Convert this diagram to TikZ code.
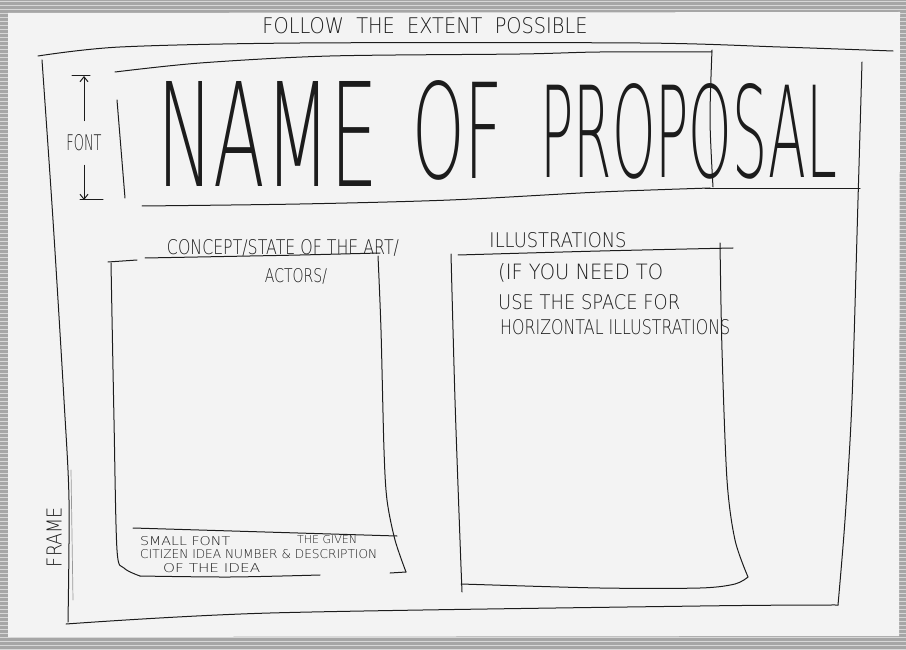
\documentclass[tikz,border=0pt]{standalone}
\usepackage{fontspec}
\usepackage{graphicx}
\usetikzlibrary{arrows.meta}
\newfontfamily\penfont{DejaVuSans-ExtraLight.ttf}
% squeeze a line of text into a given width and cap height (in pt)
\newcommand\skfit[3]{\resizebox{#1pt}{#2pt}{#3}}
\definecolor{wood}{HTML}{A6A6A6}
\definecolor{paper}{HTML}{F3F3F3}
\definecolor{ink}{HTML}{1C1C1C}

\begin{document}
\begin{tikzpicture}[x=1pt,y=-1pt,
  pen/.style={draw=ink, line width=1pt, line cap=round, line join=round},
  faint/.style={draw=ink!45, line width=0.7pt, line cap=round},
  label/.style={inner sep=0pt, text=ink, font=\penfont},
  tip/.style={-{Straight Barb[length=5pt,width=8pt]}}]
\useasboundingbox (0,0) rectangle (906,650);

% table top and sheet of paper
\fill[wood] (0,0) rectangle (906,650);
\foreach \yy in {1,5,...,650} \draw[white!55!wood, line width=0.8pt] (0,\yy) -- (906,\yy);
\fill[paper] (8,13) -- (900,12) -- (899,636) -- (8,637) -- cycle;

% heading
\node[label] (head) at (425,26) {\skfit{325}{16}{FOLLOW \ THE \ EXTENT \ POSSIBLE}};

% outer frame
\draw[pen] plot[smooth] coordinates {(38,56) (120,47) (300,43) (640,43) (780,47) (893,51)};
\draw[pen] plot[smooth] coordinates {(42,60) (53,220) (64,400) (69,500) (68,622)};
\draw[pen] plot[smooth] coordinates {(66,624) (270,613) (700,606) (838,605)};
\draw[pen] plot[smooth] coordinates {(862,62) (858,200) (852,400) (845,520) (838,605)};
\draw[faint] (71,470) -- (73,600);
\node[label, rotate=90] (frame) at (54,537) {\skfit{60}{15}{FRAME}};

% title block
\draw[pen] plot[smooth] coordinates {(115,72) (200,63) (330,56) (520,54) (600,52) (712,52)};
\draw[pen] (117,100) -- (125,198);
\draw[pen] plot[smooth] coordinates {(712,50) (710,120) (713,187)};
\draw[pen] plot[smooth] coordinates {(142,206) (300,204) (450,200) (600,192) (710,188)};
\draw[pen] (705,189) -- (860,189);
\node[label, anchor=west] (tname) at (157,134) {\skfit{221}{105}{NAME}};
\node[label, anchor=west] (tof) at (412,130) {\skfit{91}{98}{OF}};
\node[label, anchor=west] (tprop) at (540,131) {\skfit{297}{94}{PROPOSAL}};

% font size marker
\node[label, inner ysep=14pt] (font) at (84,143) {\skfit{35}{16}{FONT}};
\coordinate (ftop) at (84,76);
\coordinate (fbot) at (84,200);
\draw[pen, tip] (font) -- (ftop);
\draw[pen, tip] (font) -- (fbot);
\draw[pen] ([xshift=-12pt]ftop) -- ([xshift=6pt]ftop);
\draw[pen] ([xshift=-4pt]fbot) -- ([xshift=19pt]fbot);

% left column: concept / state of the art / actors
\node[label] (concept) at (283,248) {\skfit{232}{15}{CONCEPT/STATE OF THE ART/}};
\node[label] (actors) at (296,276) {\skfit{62}{14}{ACTORS/}};
\draw[pen] (108,262) -- (137,260);
\draw[pen] plot[smooth] coordinates {(145,258) (250,256) (300,255) (380,253)};
\draw[pen] plot[smooth] coordinates {(378,256) (381,330) (384,450) (387,500) (395,540) (406,572)};
\draw[pen] (406,572) -- (390,573);
\draw[pen] plot[smooth] coordinates {(111,263) (114,420) (117,550) (124,568) (140,576)};
\draw[pen] plot[smooth] coordinates {(140,576) (230,577) (320,575)};
\draw[pen] (133,528) -- (397,536);
\node[label, anchor=west] (small) at (140,541) {\skfit{90}{9}{SMALL FONT}};
\node[label, anchor=west] (given) at (297,540) {\skfit{60}{8}{THE GIVEN}};
\node[label, anchor=west] (citizen) at (140,554) {\skfit{237}{9}{CITIZEN IDEA NUMBER \& DESCRIPTION}};
\node[label, anchor=west] (idea) at (163,568) {\skfit{97}{9}{OF THE IDEA}};

% right column: illustrations
\node[label] (illus) at (558,240) {\skfit{137}{15}{ILLUSTRATIONS}};
\draw[pen] plot[smooth] coordinates {(458,255) (600,251) (733,248)};
\draw[pen] plot[smooth] coordinates {(451,254) (455,400) (460,540) (462,592)};
\draw[pen] plot[smooth] coordinates {(720,243) (722,350) (727,480) (735,540) (748,577)};
\draw[pen] plot[smooth] coordinates {(461,584) (600,588) (700,588) (735,584) (748,577)};
\node[label, anchor=west] (need) at (498,273) {\skfit{165}{16}{(IF YOU NEED TO}};
\node[label, anchor=west] (space) at (498,302) {\skfit{182}{15}{USE THE SPACE FOR}};
\node[label, anchor=west] (horiz) at (500,327) {\skfit{230}{15}{HORIZONTAL ILLUSTRATIONS}};
\end{tikzpicture}
\end{document}
